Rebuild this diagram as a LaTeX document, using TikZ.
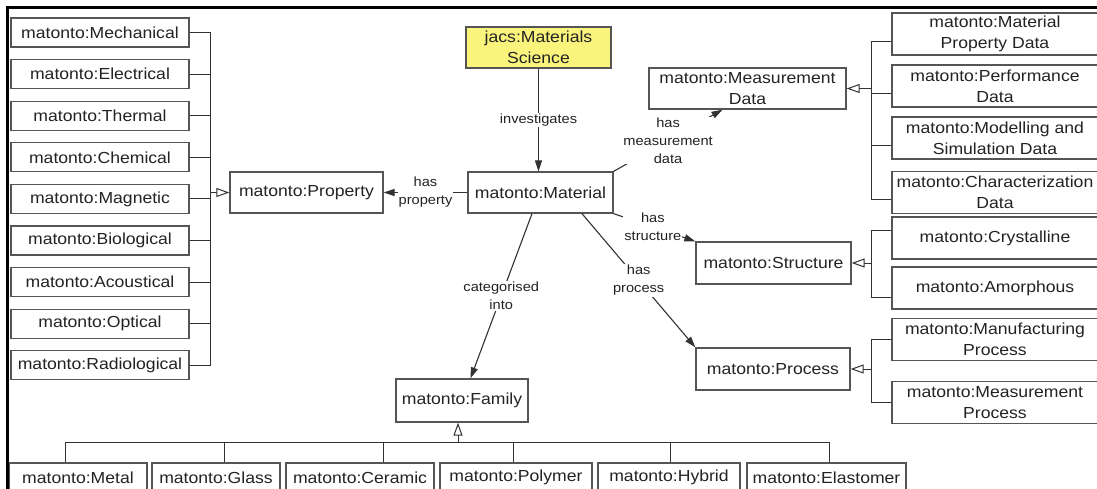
\documentclass[tikz,border=0pt]{standalone}
\usepackage{fontspec}
\setmainfont{Liberation Sans}[FakeStretch=1.1]
\usetikzlibrary{arrows.meta,calc}
\definecolor{edge}{RGB}{50,50,50}
\definecolor{frame}{RGB}{85,85,85}
\definecolor{ink}{RGB}{35,35,35}
\definecolor{sci}{RGB}{250,244,125}
\newcommand\bxfont{\fontsize{16}{21}\selectfont}
\newcommand\lbfont{\fontsize{13.3}{18}\selectfont}

\begin{document}
\begin{tikzpicture}[x=1pt,y=-1pt,
  cls/.style={draw=frame, line width=1.3pt, fill=white, inner sep=0pt,
    align=center, font=\bxfont, text=ink, minimum height=#1},
  cls/.default=29pt,
  lcol/.style={cls, minimum width=178pt},
  rcol/.style={cls=42pt, minimum width=206pt},
  bcol/.style={cls, minimum width=#1},
  rel/.style={draw=edge, line width=1.1pt, -{Triangle[length=11pt,width=7pt]}},
  gen/.style={draw=edge, line width=1pt, -{Triangle[open,length=13pt,width=9pt,fill=white]}},
  tree/.style={draw=edge, line width=1pt},
  lbl/.style={fill=white, inner sep=1pt, font=\lbfont, text=ink, align=center}]

\useasboundingbox (0,0) rectangle (1097,488);
\clip (0,0) rectangle (1097,488);
\fill[white] (0,0) rectangle (1097,488);

% property kinds
\node[lcol] (mech)  at (100,32.5)  {matonto:Mechanical};
\node[lcol] (elec)  at (100,74.1)  {matonto:Electrical};
\node[lcol] (therm) at (100,115.7) {matonto:Thermal};
\node[lcol] (chem)  at (100,157.3) {matonto:Chemical};
\node[lcol] (magn)  at (100,198.9) {matonto:Magnetic};
\node[lcol] (bio)   at (100,240.5) {matonto:Biological};
\node[lcol] (acou)  at (100,282.1) {matonto:Acoustical};
\node[lcol] (opt)   at (100,323.7) {matonto:Optical};
\node[lcol] (radio) at (100,365.3) {matonto:Radiological};

% central classes
\node[cls=41pt, minimum width=145pt, fill=sci] (sci) at (538.5,47.5) {jacs:Materials\\Science};
\node[cls=41pt, minimum width=145pt] (mat)  at (540.5,192.5) {matonto:Material};
\node[cls=41pt, minimum width=153pt] (prop) at (306.5,192.5) {matonto:Property};
\node[cls=41pt, minimum width=197pt] (md)   at (747.5,88.5)  {matonto:Measurement\\Data};
\node[cls=42pt, minimum width=155pt] (str)  at (773.5,263)   {matonto:Structure};
\node[cls=42pt, minimum width=154pt] (proc) at (773,369)     {matonto:Process};
\node[cls=43pt, minimum width=132pt] (fam)  at (462,400.5)   {matonto:Family};

% measurement data kinds
\node[rcol] (mpd)   at (995,34)    {matonto:Material\\Property Data};
\node[rcol] (perf)  at (995,86)    {matonto:Performance\\Data};
\node[rcol] (mod)   at (995,138)   {matonto:Modelling and\\Simulation Data};
\node[rcol] (chr)   at (995,192.5) {matonto:Characterization\\Data};
% structure kinds
\node[rcol] (cry)   at (995,238)   {matonto:Crystalline};
\node[rcol] (amo)   at (995,288)   {matonto:Amorphous};
% process kinds
\node[rcol] (manu)  at (995,339.5) {matonto:Manufacturing\\Process};
\node[rcol] (measp) at (995,402.5) {matonto:Measurement\\Process};

% families
\node[bcol=138pt] (metal) at (78,477.5)    {matonto:Metal};
\node[bcol=128pt] (glass) at (216,477.5)   {matonto:Glass};
\node[bcol=148pt] (cera)  at (360,477.5)   {matonto:Ceramic};
\node[bcol=152pt] (poly)  at (516,477.5)   {matonto:Polymer};
\node[bcol=142pt] (hyb)   at (669,477.5)   {matonto:Hybrid};
\node[bcol=159pt] (elas)  at (826.5,477.5) {matonto:Elastomer};

% junctions of the subclass brackets
\coordinate (pbus) at (210,192.5);
\coordinate (mbus) at (871,88.5);
\coordinate (sbus) at (871,263);
\coordinate (rbus) at (871,369);
\coordinate (fbus) at (458,442);

% property bracket
\foreach \n in {mech,elec,therm,chem,magn,bio,acou,opt,radio}
  \draw[tree] (\n.east) -| (pbus);
\draw[gen] (pbus) -- (prop.west);

% measurement data bracket
\foreach \n in {mpd,perf,mod,chr}
  \draw[tree] ([yshift=-7pt]\n.west) -| (mbus);
\draw[gen] (mbus) -- (md.east);

% structure bracket
\draw[tree] ([yshift=8pt]cry.west) -| (sbus);
\draw[tree] ([yshift=-9pt]amo.west) -| (sbus);
\draw[gen] (sbus) -- (str.east);

% process bracket
\draw[tree] (manu.west) -| (rbus);
\draw[tree] (measp.west) -| (rbus);
\draw[gen] (rbus) -- (proc.east);

% family bracket
\draw[tree] ([xshift=-13pt]metal.north) |- (fbus);
\draw[tree] ([xshift=8pt]glass.north) |- (fbus);
\draw[tree] ([xshift=23pt]cera.north) |- (fbus);
\draw[tree] ([xshift=-3pt]poly.north) |- (fbus);
\draw[tree] ([xshift=1pt]hyb.north) |- (fbus);
\draw[tree] ([xshift=2.5pt]elas.north) |- (fbus);
\draw[gen] (fbus) -- (fbus |- fam.south);

% relations of the material class
\draw[rel] (sci.south) -- (sci.south |- mat.north)
  node[lbl, pos=0.5] {investigates};
\draw[rel] (mat.west) -- (prop.east)
  node[lbl, pos=0.5] {has\\property};
\draw[rel] (mat.north east) -- ([xshift=-25pt]md.south)
  node[lbl, pos=0.5] {has\\measurement\\data};
\draw[rel] (mat.south east) -- (str.north west)
  node[lbl, pos=0.48] {has\\structure};
\draw[rel] ([xshift=41.5pt]mat.south) -- (proc.north west)
  node[lbl, pos=0.5] {has\\process};
\draw[rel] ([xshift=-8.5pt]mat.south) -- ([xshift=8.5pt]fam.north)
  node[lbl, pos=0.5] {categorised\\into};

% outer frame edge
\draw[line width=3.5pt, black] (7.5,490) -- (7.5,7.5) -- (1100,7.5);
\end{tikzpicture}
\end{document}
